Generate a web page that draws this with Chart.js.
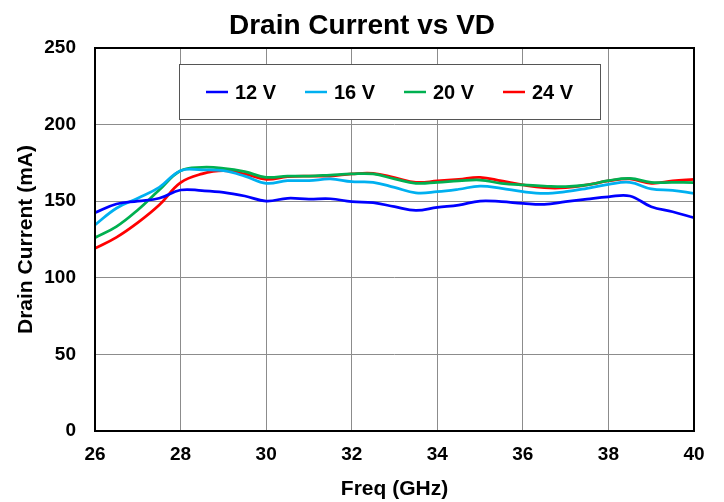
<!DOCTYPE html>
<html>
<head>
<meta charset="utf-8">
<title>Drain Current vs VD</title>
<script src="https://cdn.jsdelivr.net/npm/chart.js@4.4.1/dist/chart.umd.min.js"></script>
<style>
  html, body { margin: 0; padding: 0; background: #fff; }
  #wrap { width: 724px; height: 502px; }
</style>
</head>
<body>
<div id="wrap"><canvas id="drainChart" width="724" height="502"></canvas></div>
<script>
// Frequency points (GHz)
const freq = [26, 26.5, 27, 27.5, 28, 28.5, 29, 29.5, 30, 30.5, 31, 31.5, 32, 32.5, 33,
              33.5, 34, 34.5, 35, 35.5, 36, 36.5, 37, 37.5, 38, 38.5, 39, 39.5, 40];

// Drain current (mA) per drain voltage
const id12 = [142.5, 148.2, 150.1, 151.9, 157.3, 156.9, 155.8, 153.4, 150.1, 151.9, 151.4, 151.6, 149.7, 149.0, 146.4,
              144.0, 146.0, 147.5, 150.1, 149.7, 148.6, 148.0, 149.7, 151.4, 152.9, 153.4, 146.4, 143.1, 139.2];
const id16 = [134.5, 145.4, 151.9, 159.0, 169.9, 170.4, 169.9, 166.4, 161.7, 163.4, 163.4, 164.5, 162.7, 162.3, 159.0,
              155.5, 156.2, 157.8, 159.9, 158.4, 156.2, 155.1, 156.2, 158.4, 161.0, 162.3, 158.0, 157.1, 155.1];
const id20 = [126.2, 133.4, 144.3, 157.3, 169.9, 172.1, 171.5, 169.3, 165.6, 166.4, 166.4, 167.1, 167.8, 167.8, 164.6,
              161.7, 162.3, 163.2, 163.8, 161.7, 160.6, 159.9, 159.5, 160.6, 163.4, 164.9, 162.3, 162.3, 162.1];
const id24 = [119.2, 126.4, 136.0, 147.5, 162.1, 167.8, 169.9, 167.8, 164.3, 166.0, 166.4, 166.4, 167.8, 168.2, 165.4,
              162.3, 163.2, 164.3, 165.6, 163.2, 160.6, 158.8, 158.8, 160.6, 163.2, 164.5, 161.7, 163.2, 164.3];

const seriesLabels = ['12 V', '16 V', '20 V', '24 V'];
const seriesColors = ['#0000FF', '#00B0F0', '#00B050', '#FF0000'];
const seriesData = [id12, id16, id20, id24];

const FONT = '"Liberation Sans", Arial, sans-serif';

function toPoints(values) {
    return values.map((v, i) => ({ x: freq[i], y: v }));
}

// Black frame round the plot area
const frame = {
    id: 'frame',
    afterDatasetsDraw(chart) {
        const { ctx, chartArea: a } = chart;
        ctx.save();
        ctx.strokeStyle = '#000';
        ctx.lineWidth = 2;
        ctx.strokeRect(a.left, a.top, a.right - a.left, a.bottom - a.top);
        ctx.restore();
    }
};

// Boxed legend inside the plot, one row
const boxLegend = {
    id: 'boxLegend',
    afterDraw(chart) {
        const ctx = chart.ctx;
        const box = { x: 179, y: 64, w: 421, h: 55 };
        ctx.save();
        ctx.fillStyle = '#fff';
        ctx.fillRect(box.x, box.y, box.w, box.h);
        ctx.strokeStyle = '#555';
        ctx.lineWidth = 1;
        ctx.strokeRect(box.x + 0.5, box.y + 0.5, box.w, box.h);
        ctx.font = 'bold 20px ' + FONT;
        ctx.textBaseline = 'middle';
        ctx.textAlign = 'left';
        const cy = box.y + 28;
        chart.data.datasets.forEach((ds, i) => {
            const x0 = 206 + i * 99;
            ctx.strokeStyle = ds.borderColor;
            ctx.lineWidth = 2.5;
            ctx.beginPath();
            ctx.moveTo(x0, cy);
            ctx.lineTo(x0 + 22, cy);
            ctx.stroke();
            ctx.fillStyle = '#000';
            ctx.fillText(ds.label, x0 + 29, cy + 1);
        });
        ctx.restore();
    }
};

const ctx = document.getElementById('drainChart').getContext('2d');
new Chart(ctx, {
    type: 'line',
    data: {
        datasets: seriesData.map((vals, i) => ({
            label: seriesLabels[i],
            data: toPoints(vals),
            borderColor: seriesColors[i],
            backgroundColor: seriesColors[i],
            borderWidth: 2.75,
            pointRadius: 0,
            tension: 0.4,
            fill: false
        }))
    },
    options: {
        responsive: false,
        animation: false,
        layout: { padding: 0 },
        scales: {
            x: {
                type: 'linear',
                min: 26,
                max: 40,
                ticks: { stepSize: 2, padding: 12, color: '#000', font: { family: FONT, size: 19, weight: 'bold' } },
                grid: { color: '#8c8c8c', lineWidth: 1, drawTicks: false },
                border: { display: false },
                title: { display: true, text: 'Freq (GHz)', color: '#000', padding: { top: 0, bottom: 0 },
                         font: { family: FONT, size: 21, weight: 'bold' } },
                afterFit(scale) { scale.height = 71; }
            },
            y: {
                min: 0,
                max: 250,
                ticks: { stepSize: 50, padding: 19, color: '#000', font: { family: FONT, size: 19, weight: 'bold' } },
                grid: { color: '#8c8c8c', lineWidth: 1, drawTicks: false },
                border: { display: false },
                title: { display: true, text: 'Drain Current (mA)', color: '#000', padding: { top: 14, bottom: 0 },
                         font: { family: FONT, size: 21, weight: 'bold' } },
                afterFit(scale) { scale.width = 95; }
            },
            // empty right-hand strip so the title stays centred on the canvas
            yRight: {
                position: 'right',
                min: 0,
                max: 250,
                ticks: { display: false },
                grid: { display: false, drawTicks: false },
                border: { display: false },
                afterFit(scale) { scale.width = 30; }
            }
        },
        plugins: {
            legend: { display: false },
            tooltip: { enabled: false },
            title: {
                display: true,
                text: 'Drain Current vs VD',
                color: '#000',
                padding: { top: 9, bottom: 5.4 },
                font: { family: FONT, size: 28, weight: 'bold' }
            }
        }
    },
    plugins: [frame, boxLegend]
});
</script>
</body>
</html>
